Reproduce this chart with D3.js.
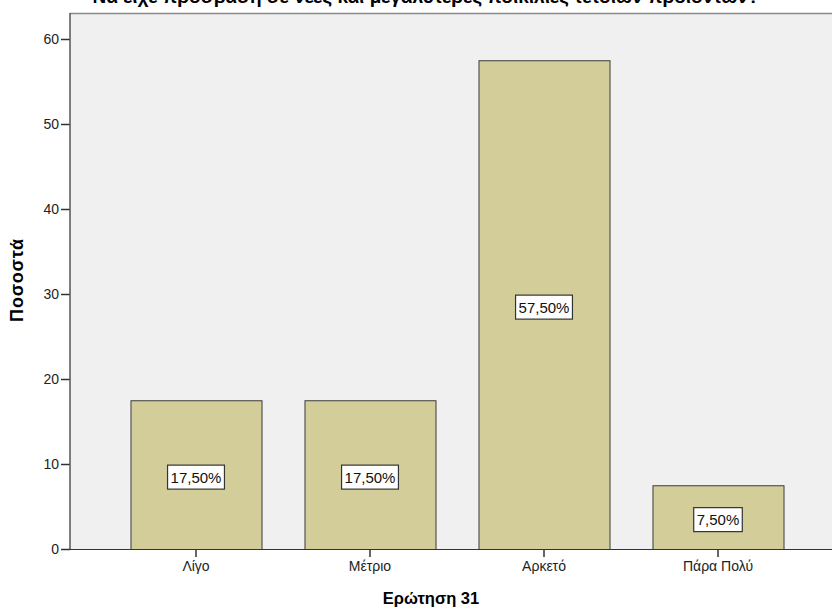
<!DOCTYPE html>
<html>
<head>
<meta charset="utf-8">
<script src="https://cdn.jsdelivr.net/npm/d3@7"></script>
<style>
  html, body { margin: 0; padding: 0; background: #fff; }
  svg { display: block; font-family: "Liberation Sans", Arial, sans-serif; }
</style>
</head>
<body>
<svg id="chart" width="832" height="612"></svg>
<script>
// Answers to question 31 (percent of respondents)
const categories = ["Λίγο", "Μέτριο", "Αρκετό", "Πάρα Πολύ"];
const percents = [17.5, 17.5, 57.5, 7.5];
const yTicks = [0, 10, 20, 30, 40, 50, 60];

const svg = d3.select("#chart");
const frame = { left: 70, top: 13, right: 832, bottom: 549 };

const x = d3.scaleBand()
  .domain(categories)
  .range([109, 805])
  .paddingInner(0.247)
  .paddingOuter(0.1235);

const y = d3.scaleLinear()
  .domain([0, 60])
  .range([frame.bottom, frame.bottom - 510]);

// plot background
svg.append("rect")
  .attr("x", frame.left).attr("y", frame.top)
  .attr("width", frame.right - frame.left).attr("height", frame.bottom - frame.top)
  .attr("fill", "#f0f0f0");
svg.append("line")
  .attr("x1", frame.left).attr("x2", frame.right)
  .attr("y1", frame.top + 0.5).attr("y2", frame.top + 0.5)
  .attr("stroke", "#8a8a8a").attr("stroke-width", 1.5);

// bars
svg.append("g").selectAll("rect")
  .data(categories)
  .join("rect")
  .attr("x", d => x(d) + 0.5)
  .attr("y", (d, i) => y(percents[i]) + 0.5)
  .attr("width", x.bandwidth())
  .attr("height", (d, i) => y(0) - y(percents[i]))
  .attr("fill", "#d3ce99")
  .attr("stroke", "#3a3a3a")
  .attr("stroke-width", 1);

// y axis
const yAxis = svg.append("g")
  .attr("transform", `translate(${frame.left},0)`)
  .call(d3.axisLeft(y).tickValues(yTicks).tickSize(9).tickPadding(2).tickFormat(d3.format("d")));
yAxis.select(".domain").remove();
yAxis.selectAll(".tick line").attr("stroke", "#333").attr("stroke-width", 1.5);
yAxis.selectAll("text").attr("font-size", 14).attr("fill", "#222");
svg.append("line")
  .attr("x1", frame.left).attr("x2", frame.left)
  .attr("y1", frame.top).attr("y2", frame.bottom)
  .attr("stroke", "#555").attr("stroke-width", 1.5);

// x axis
const xAxis = svg.append("g")
  .attr("transform", `translate(0,${frame.bottom})`)
  .call(d3.axisBottom(x).tickSize(8).tickPadding(4));
xAxis.select(".domain").remove();
xAxis.selectAll(".tick line").attr("stroke", "#333").attr("stroke-width", 1.5);
xAxis.selectAll("text").attr("font-size", 14).attr("fill", "#222");
svg.append("line")
  .attr("x1", frame.left).attr("x2", frame.right)
  .attr("y1", frame.bottom + 0.5).attr("y2", frame.bottom + 0.5)
  .attr("stroke", "#333").attr("stroke-width", 1.2);

// value labels in boxes at the middle of each bar
const fmt = v => d3.format(".2f")(v).replace(".", ",") + "%";
const labels = svg.append("g").selectAll("g")
  .data(categories)
  .join("g")
  .attr("transform", (d, i) => `translate(${x(d) + x.bandwidth() / 2},${y(percents[i] / 2) + 2.5})`);
labels.append("text")
  .attr("text-anchor", "middle")
  .attr("dy", "0.36em")
  .attr("font-size", 15)
  .attr("fill", "#111")
  .text((d, i) => fmt(percents[i]));
labels.each(function () {
  const g = d3.select(this);
  const bb = g.select("text").node().getBBox();
  g.insert("rect", "text")
    .attr("x", bb.x - 3).attr("y", -12)
    .attr("width", bb.width + 6).attr("height", 24)
    .attr("fill", "#fff")
    .attr("stroke", "#333")
    .attr("stroke-width", 1.2);
});

// titles
svg.append("text")
  .attr("x", 426).attr("y", 3)
  .attr("text-anchor", "middle")
  .attr("font-size", 19).attr("font-weight", "bold")
  .text("Να είχε πρόσβαση σε νέες και μεγαλύτερες ποικιλίες τέτοιων προϊόντων?");

svg.append("text")
  .attr("x", 431).attr("y", 604)
  .attr("text-anchor", "middle")
  .attr("font-size", 16.5).attr("font-weight", "bold")
  .text("Ερώτηση 31");

svg.append("text")
  .attr("transform", "translate(23,280) rotate(-90)")
  .attr("text-anchor", "middle")
  .attr("font-size", 18).attr("font-weight", "bold")
  .attr("letter-spacing", 0.8)
  .text("Ποσοστά");
</script>
</body>
</html>
